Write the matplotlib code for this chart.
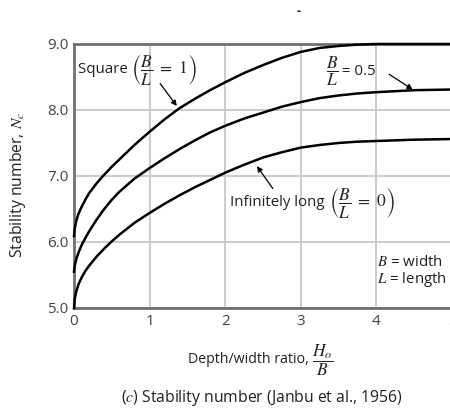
import matplotlib
matplotlib.use('Agg')
import matplotlib.pyplot as plt

# H/B ratio and stability number Nc
depth_ratio = [0, 0.01, 0.03, 0.06, 0.1, 0.15, 0.2, 0.3, 0.4, 0.5, 0.6, 0.8, 1.0,
               1.2, 1.4, 1.6, 1.8, 2.0, 2.25, 2.5, 2.75, 3.0, 3.25, 3.5, 3.75,
               4.0, 4.5, 5.0]
nc_square = [6.09, 6.20, 6.32, 6.43, 6.53, 6.64, 6.74, 6.89, 7.02, 7.14, 7.25,
             7.47, 7.67, 7.86, 8.03, 8.17, 8.30, 8.42, 8.56, 8.68, 8.79, 8.88,
             8.94, 8.97, 8.99, 9.00, 9.00, 9.00]
nc_half = [5.55, 5.64, 5.74, 5.84, 5.95, 6.06, 6.16, 6.34, 6.50, 6.64, 6.76,
           6.96, 7.12, 7.27, 7.41, 7.54, 7.66, 7.76, 7.87, 7.96, 8.05, 8.12,
           8.18, 8.22, 8.25, 8.27, 8.30, 8.31]
nc_strip = [5.00, 5.14, 5.25, 5.36, 5.46, 5.56, 5.64, 5.78, 5.90, 6.01, 6.11,
            6.29, 6.44, 6.58, 6.71, 6.83, 6.94, 7.05, 7.17, 7.28, 7.36, 7.43,
            7.47, 7.50, 7.52, 7.53, 7.55, 7.56]

x_ticks = [0, 1, 2, 3, 4, 5]
y_ticks = [5.0, 6.0, 7.0, 8.0, 9.0]

plt.rcParams['font.family'] = ['Open Sans', 'DejaVu Sans']
plt.rcParams['mathtext.fontset'] = 'stix'

INK = '#222222'
FS = 10.8

fig = plt.figure(figsize=(4.5, 4.08), dpi=100)
ax = fig.add_axes([0.1644, 0.2451, 0.84, 0.6471])

for vals in (nc_square, nc_half, nc_strip):
    ax.plot(depth_ratio, vals, color='black', lw=1.8, clip_on=False, zorder=4)

ax.set_xlim(0, 5)
ax.set_ylim(5, 9)
ax.set_xticks(x_ticks)
ax.set_xticklabels([str(t) for t in x_ticks])
ax.set_yticks(y_ticks)
ax.set_yticklabels([f'{t:.1f}' for t in y_ticks])
ax.grid(True, color='#c8c8c8', lw=1.3)
ax.set_axisbelow(True)
ax.tick_params(length=0, pad=4, labelsize=11, labelcolor='#444444')
for side in ('left', 'bottom', 'top'):
    ax.spines[side].set_color('#707070')
    ax.spines[side].set_linewidth(2)
ax.spines['right'].set_visible(False)

arrow = dict(arrowstyle='-|>', lw=0.9, color='black', mutation_scale=8,
             shrinkA=0, shrinkB=0)


def label(x, y, plain, math, after=None, coords='data', size=FS):
    # plain text followed by a larger math piece (fractions), optionally more text
    t = ax.text(x, y, plain, fontsize=size, color=INK, va='center', ha='left',
                transform=ax.transData if coords == 'data' else fig.transFigure)
    m = ax.annotate(math, xy=(1, 0.5), xycoords=t, fontsize=12.5, color=INK,
                    va='center', ha='left', annotation_clip=False)
    if after:
        ax.annotate(after, xy=(1, 0.5), xycoords=m, fontsize=size, color=INK,
                    va='center', ha='left', annotation_clip=False)
    return t


label(0.05, 8.62, 'Square ', r'$\left(\dfrac{B}{L}\ =\ 1\right)$')
ax.annotate('', xy=(1.36, 8.06), xytext=(1.14, 8.40), arrowprops=arrow)

label(3.33, 8.58, '', r'$\dfrac{B}{L}$', after=' = 0.5')
ax.annotate('', xy=(4.48, 8.31), xytext=(4.17, 8.54), arrowprops=arrow)

label(2.07, 6.60, 'Infinitely long ', r'$\left(\dfrac{B}{L}\ =\ 0\right)$')
ax.annotate('', xy=(2.42, 7.15), xytext=(2.63, 6.81), arrowprops=arrow)

ax.text(4.01, 5.69, r'$B$ = width', fontsize=FS, color=INK, va='center')
ax.text(4.01, 5.43, r'$L$ = length', fontsize=FS, color=INK, va='center')

fig.text(0.04, 0.547, r'Stability number, $N_c$', rotation=90, fontsize=11.3,
         color=INK, ha='center', va='center')
label(0.418, 0.118, 'Depth/width ratio, ', r'$\dfrac{H_o}{B}$', coords='fig',
      size=10.2)
fig.text(0.582, 0.025, r'($c$) Stability number (Janbu et al., 1956)',
         fontsize=11.3, color=INK, ha='center', va='center')
fig.text(0.664, 0.971, '-', fontsize=9, fontweight='bold', color=INK,
         ha='center', va='center')

fig.savefig('out.png', dpi=100)
